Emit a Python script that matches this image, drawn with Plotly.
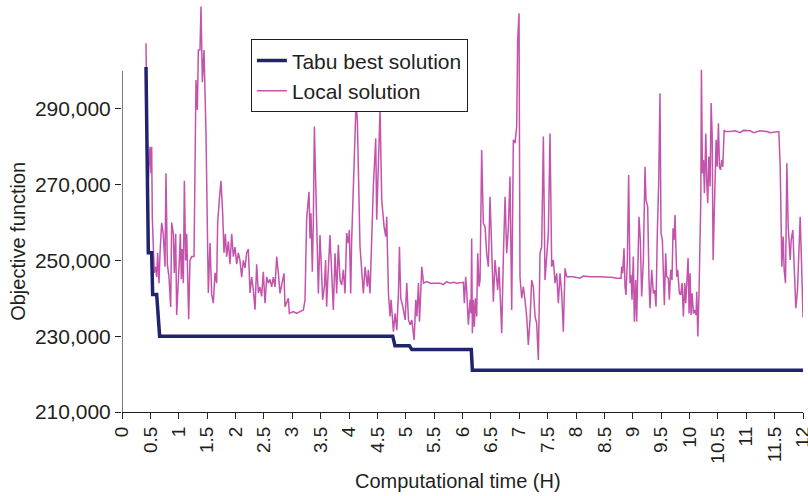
import plotly.graph_objects as go

# ---- data (values in thousands) ----
tabu_t = [0.423, 0.452, 0.464, 0.523, 0.540, 0.611, 0.663, 4.77, 4.81, 5.064, 5.107, 6.155, 6.174, 12.0]
tabu_v = [301.0, 266.8, 252.0, 252.0, 241.0, 241.0, 230.0, 230.0, 227.5, 227.5, 226.5, 226.5, 221.0, 221.0]

local_t = [
    0.423, 0.452, 0.493, 0.511, 0.523, 0.534, 0.552, 0.570, 0.593, 0.611, 0.628, 0.652, 0.670, 0.699, 0.728,
    0.758, 0.775, 0.799, 0.828, 0.858, 0.875, 0.905, 0.922, 0.946, 0.963, 0.993, 1.010, 1.028, 1.046, 1.063,
    1.081, 1.099, 1.122, 1.140, 1.157, 1.175, 1.198, 1.228, 1.269, 1.286, 1.304, 1.328, 1.345, 1.374, 1.392,
    1.416, 1.445, 1.480, 1.521, 1.551, 1.580, 1.609, 1.639, 1.668, 1.686, 1.715, 1.744, 1.774, 1.797, 1.821,
    1.844, 1.874, 1.903, 1.933, 1.962, 1.991, 2.021, 2.050, 2.079, 2.109, 2.138, 2.167, 2.197, 2.226, 2.256,
    2.285, 2.314, 2.344, 2.373, 2.403, 2.432, 2.461, 2.490, 2.520, 2.550, 2.579, 2.608, 2.637, 2.667, 2.696,
    2.726, 2.755,
    2.784, 2.855, 2.872, 2.931, 2.949, 3.019, 3.078, 3.137, 3.196, 3.225, 3.254, 3.295, 3.313, 3.330, 3.354,
    3.372, 3.390, 3.460, 3.489, 3.536, 3.566, 3.588, 3.606, 3.624, 3.665, 3.724, 3.754, 3.783, 3.812, 3.842,
    3.871, 3.900, 3.930, 3.959, 3.988, 4.006, 4.030, 4.047, 4.124, 4.147, 4.194, 4.253, 4.283, 4.324, 4.341,
    4.370, 4.429, 4.471, 4.488, 4.547, 4.577, 4.618, 4.647, 4.665, 4.695, 4.724, 4.742, 4.783, 4.812, 4.842,
    4.871, 4.889, 4.912, 4.948, 4.989, 5.018, 5.048, 5.077, 5.107, 5.148, 5.177, 5.195, 5.225, 5.242, 5.283,
    5.313, 5.372, 5.430,
    5.604, 5.662, 5.721, 5.780, 5.839, 5.897, 6.015, 6.033, 6.056, 6.074, 6.103, 6.133, 6.150, 6.162, 6.174,
    6.191, 6.209, 6.227, 6.250, 6.268, 6.291, 6.309, 6.338, 6.367, 6.397, 6.426, 6.456, 6.485, 6.514, 6.544,
    6.573, 6.603, 6.620, 6.644, 6.661, 6.691, 6.720, 6.750, 6.779, 6.808, 6.837, 6.867, 6.896, 6.925, 6.955,
    6.972, 6.996, 7.013, 7.043, 7.072, 7.101, 7.131, 7.160, 7.190, 7.219, 7.248, 7.278, 7.307, 7.337, 7.366,
    7.395, 7.425, 7.454, 7.484, 7.513, 7.542, 7.572, 7.601, 7.630, 7.660, 7.689, 7.718, 7.748, 7.777, 7.806,
    7.836, 7.953, 8.070, 8.129, 8.247, 8.423, 8.658,
    8.717, 8.793, 8.805, 8.822, 8.846, 8.864, 8.881, 8.905, 8.928, 8.952, 8.969, 8.987, 9.010, 9.028, 9.052,
    9.069, 9.087, 9.110, 9.134, 9.157, 9.187, 9.216, 9.234, 9.263, 9.286, 9.304, 9.334, 9.363, 9.386, 9.410,
    9.433, 9.457, 9.480, 9.498, 9.522, 9.539, 9.557, 9.580, 9.598, 9.627, 9.645, 9.668, 9.692, 9.710, 9.727,
    9.745, 9.775, 9.792, 9.822, 9.845, 9.869, 9.892, 9.916, 9.934, 9.952, 9.975, 9.993, 10.010, 10.028, 10.046,
    10.069, 10.093, 10.116, 10.128, 10.146, 10.169, 10.199, 10.210, 10.228, 10.246, 10.263, 10.287, 10.305, 10.322, 10.340,
    10.363, 10.381, 10.399, 10.416, 10.440, 10.469, 10.487, 10.510, 10.528, 10.546, 10.569, 10.587, 10.611, 10.628, 10.716,
    10.804, 10.892, 10.951, 11.069, 11.128, 11.245, 11.363, 11.421, 11.539, 11.574, 11.598, 11.627, 11.651, 11.668, 11.692,
    11.715, 11.739, 11.757, 11.774, 11.792, 11.821, 11.845, 11.874, 11.903, 11.950, 11.980, 12.000,
]
local_v = [
    307.3, 267.8, 280.0, 273.0, 280.0, 261.5, 253.5, 246.7, 248.3, 245.6, 252.0, 244.0, 252.0, 259.9, 257.0,
    248.3, 273.0, 249.0, 245.6, 237.7, 260.0, 257.0, 246.7, 257.0, 235.6, 248.0, 250.0, 257.0, 245.0, 253.0,
    244.0, 271.0, 250.0, 257.0, 248.0, 234.5, 250.0, 251.0, 251.0, 277.0, 297.6, 289.7, 305.5, 305.5, 317.0,
    297.0, 305.5, 283.6, 241.4, 254.6, 241.0, 238.7, 246.7, 244.0, 260.0, 266.0, 271.0, 262.5, 252.0, 257.0,
    251.0, 255.0, 249.0, 257.0, 251.0, 253.5, 249.0, 252.0, 250.0, 245.6, 250.0, 248.0, 252.0, 253.0, 241.4,
    245.6, 242.3, 237.0, 249.0, 241.4, 243.0, 240.5, 247.0, 238.7, 245.6, 244.0, 245.0, 243.0, 245.6, 243.0,
    251.0, 246.7,
    241.3, 246.6, 237.8, 240.0, 236.0, 236.5, 236.0, 236.5, 236.9, 239.6, 261.1, 268.1, 255.8, 262.4, 247.0,
    260.7, 285.3, 241.3, 256.7, 239.6, 243.1, 250.1, 237.8, 244.0, 256.7, 236.9, 251.9, 241.3, 254.1, 244.8,
    243.5, 247.5, 241.3, 257.2, 254.5, 258.0, 241.3, 255.4, 291.5, 287.1, 253.6, 241.3, 248.3, 243.1, 247.5,
    241.3, 269.5, 282.2, 260.7, 289.7, 265.9, 258.9, 256.3, 261.5, 241.3, 235.2, 239.6, 231.2, 236.0, 231.6,
    241.3, 253.6, 240.0, 237.8, 234.3, 244.0, 234.3, 233.0, 234.3, 229.0, 239.6, 235.2, 244.0, 233.8, 248.3,
    244.0, 244.4, 244.0,
    244.0, 243.6, 244.4, 244.0, 244.2, 244.0, 244.2, 238.7, 245.7, 242.2, 233.0, 239.6, 236.0, 255.8, 230.8,
    239.6, 232.5, 240.0, 235.2, 251.9, 243.1, 244.8, 279.1, 259.8, 258.9, 251.9, 248.3, 266.8, 255.4, 239.1,
    250.1, 244.0, 242.2, 248.3, 239.6, 230.8, 251.0, 266.8, 251.9, 258.5, 272.1, 236.9, 281.8, 280.9, 285.3,
    308.2, 315.2, 245.7, 240.0, 243.1, 239.6, 235.2, 227.7, 234.3, 244.8, 243.1, 235.2, 233.4, 223.7, 251.9,
    253.6, 282.7, 244.8, 251.9, 257.2, 283.5, 248.3, 250.1, 244.0, 246.6, 238.7, 246.6, 241.3, 231.2, 247.9,
    245.7, 245.7, 245.3, 245.9, 245.7, 245.7, 245.5,
    245.3, 245.3, 248.3, 246.6, 253.2, 243.1, 240.9, 250.1, 272.5, 244.0, 246.2, 239.6, 251.0, 233.8, 244.8,
    233.8, 245.7, 261.5, 255.4, 240.5, 250.1, 274.7, 265.9, 264.2, 244.8, 237.4, 247.5, 241.3, 242.2, 237.8,
    257.2, 270.4, 294.1, 257.2, 255.4, 244.0, 238.2, 251.9, 245.7, 245.3, 239.6, 247.5, 244.8, 258.5, 255.4,
    262.0, 245.7, 247.5, 241.3, 240.9, 244.0, 235.2, 244.0, 238.7, 243.1, 250.6, 236.0, 246.6, 235.6, 241.3,
    236.0, 236.9, 235.6, 241.7, 229.9, 242.2, 265.9, 300.3, 273.0, 276.5, 267.7, 283.5, 270.4, 265.1, 277.4,
    269.5, 291.5, 283.5, 250.1, 265.9, 281.8, 274.7, 286.2, 274.7, 273.9, 276.5, 274.7, 284.4, 284.0, 284.0,
    284.2, 283.7, 284.3, 284.2, 283.7, 284.2, 284.0, 283.7, 284.0, 284.0, 274.7, 248.3, 256.3, 247.5, 244.0,
    275.6, 258.9, 253.6, 250.1, 255.4, 258.0, 248.3, 237.4, 242.2, 261.5, 246.2, 235.0,
]

x_tickvals = [0, 0.5, 1, 1.5, 2, 2.5, 3, 3.5, 4, 4.5, 5, 5.5, 6, 6.5, 7, 7.5, 8, 8.5, 9, 9.5, 10, 10.5, 11, 11.5, 12]
x_ticktext = ["0", "0.5", "1", "1.5", "2", "2.5", "3", "3.5", "4", "4.5", "5", "5.5", "6", "6.5", "7", "7.5",
              "8", "8.5", "9", "9.5", "10", "10.5", "11", "11.5", "12"]
y_tickvals = [210, 230, 250, 270, 290]
y_ticktext = ["210,000", "230,000", "250,000", "270,000", "290,000"]

FONT = "Liberation Sans, Arial, sans-serif"
TXT = "#231f20"

fig = go.Figure()
fig.add_trace(go.Scatter(x=local_t, y=local_v, mode="lines", name="Local solution",
                         line=dict(color="#c453ab", width=1.5), legendrank=2))
fig.add_trace(go.Scatter(x=tabu_t, y=tabu_v, mode="lines", name="Tabu best solution",
                         line=dict(color="#21236e", width=3.5), legendrank=1))

fig.update_layout(
    width=808, height=496,
    margin=dict(l=122, r=5, t=0, b=84),
    paper_bgcolor="white", plot_bgcolor="white",
    font=dict(family=FONT, size=20, color=TXT),
    showlegend=True,
    legend=dict(x=0.189, y=0.905, xanchor="left", yanchor="top",
                bgcolor="white", bordercolor="#231f20", borderwidth=1.2,
                font=dict(size=21, color=TXT), tracegroupgap=0, itemwidth=30),
    xaxis=dict(range=[0, 12], tickvals=x_tickvals, ticktext=x_ticktext, tickangle=-90,
               showline=True, linecolor="#231f20", linewidth=1.2, ticks="outside", ticklen=6,
               tickcolor="#231f20", showgrid=False, zeroline=False, automargin=False,
               ticklabeloverflow="allow",
               tickfont=dict(size=19, color=TXT)),
    yaxis=dict(range=[210, 318.7], tickvals=y_tickvals, ticktext=y_ticktext,
               showline=False, ticks="outside", ticklen=6, tickcolor="#231f20",
               showgrid=False, zeroline=False, automargin=False,
               tickfont=dict(size=21, color=TXT)),
)

# y-axis line only spans 210,000 – 300,000 as in the reference
fig.add_shape(type="line", xref="x", yref="y", x0=0, x1=0, y0=210, y1=300,
              line=dict(color="#231f20", width=1.2))

fig.add_annotation(text="Objective function", xref="paper", yref="paper",
                   x=-0.153, y=0.415, textangle=-90, showarrow=False,
                   xanchor="center", yanchor="middle", font=dict(size=20, color=TXT))
fig.add_annotation(text="Computational time (H)", xref="paper", yref="paper",
                   x=0.493, y=-0.167, showarrow=False,
                   xanchor="center", yanchor="middle", font=dict(size=20, color=TXT))

fig.write_html("out.html")
